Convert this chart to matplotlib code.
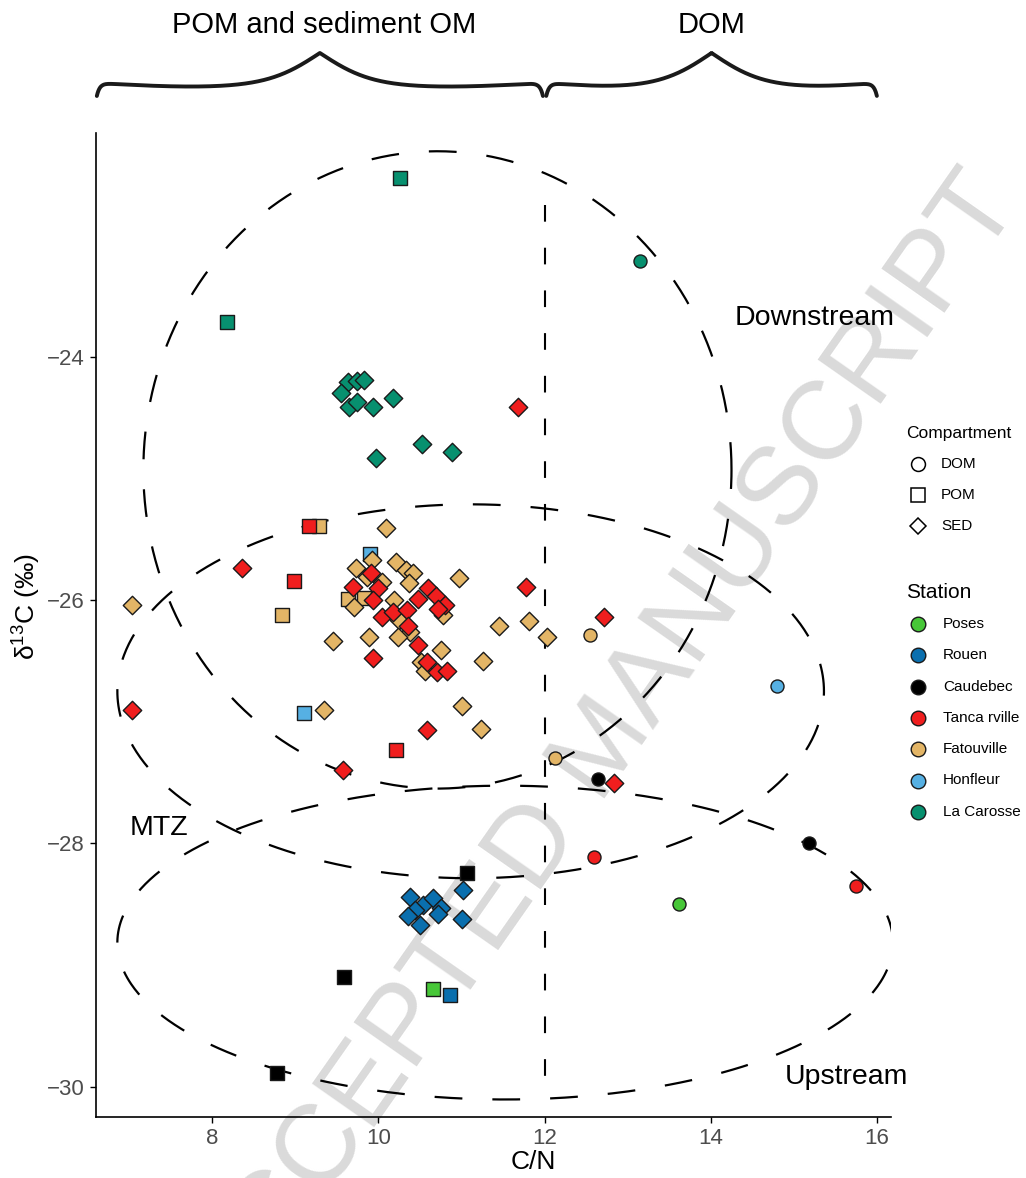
import numpy as np
import matplotlib
matplotlib.use("Agg")
import matplotlib.pyplot as plt
from matplotlib.lines import Line2D

plt.rcParams['font.family'] = ['Liberation Sans', 'DejaVu Sans']
plt.rcParams['mathtext.fontset'] = 'custom'
plt.rcParams['mathtext.rm'] = 'Liberation Sans'
plt.rcParams['mathtext.it'] = 'Liberation Sans:italic'

# ---------------------------------------------------------------- data
stations = ["Poses", "Rouen", "Caudebec", "Tanca rville", "Fatouville", "Honfleur", "La Carosse"]
station_colors = ["#47c738", "#0a6fae", "#000000", "#f01e1e", "#e3b566", "#56b0e3", "#07906f"]
compartments = ["DOM", "POM", "SED"]
compartment_markers = ["o", "s", "D"]

# Poses
poses_dom_cn = [13.62]
poses_dom_d13c = [-28.50]
poses_pom_cn = [10.66]
poses_pom_d13c = [-29.20]

# Rouen
rouen_pom_cn = [10.86]
rouen_pom_d13c = [-29.25]
rouen_sed_cn = [10.38, 10.54, 10.66, 10.75, 10.72, 10.44, 10.36, 10.50, 11.02, 11.01]
rouen_sed_d13c = [-28.44, -28.51, -28.45, -28.53, -28.58, -28.55, -28.60, -28.67, -28.38, -28.62]

# Caudebec
caud_dom_cn = [12.64, 15.18]
caud_dom_d13c = [-27.47, -28.00]
caud_pom_cn = [11.06, 9.58, 8.78]
caud_pom_d13c = [-28.24, -29.10, -29.89]

# Tancarville
tanc_dom_cn = [12.60, 15.75]
tanc_dom_d13c = [-28.11, -28.35]
tanc_pom_cn = [9.17, 8.98, 10.21]
tanc_pom_d13c = [-25.39, -25.84, -27.23]
tanc_sed_cn = [11.68, 8.36, 7.03, 10.58, 9.57, 11.78, 9.91, 9.69, 9.99, 9.94, 10.60, 10.69, 10.48,
               10.80, 10.72, 10.04, 10.17, 10.34, 10.36, 9.93, 10.48, 10.59, 10.70, 10.82, 12.72, 12.84]
tanc_sed_d13c = [-24.41, -25.74, -26.90, -27.07, -27.40, -25.89, -25.78, -25.89, -25.90, -26.00, -25.90,
                 -25.97, -25.99, -26.04, -26.07, -26.14, -26.10, -26.08, -26.21, -26.48, -26.37, -26.51,
                 -26.59, -26.58, -26.14, -27.50]

# Fatouville
fatou_dom_cn = [12.13, 12.55]
fatou_dom_d13c = [-27.30, -26.29]
fatou_pom_cn = [9.28, 8.84, 9.63, 9.83]
fatou_pom_d13c = [-25.39, -26.12, -25.99, -25.98]
fatou_sed_cn = [10.09, 7.03, 9.45, 9.35, 11.01, 11.24, 10.97, 11.26, 11.45, 11.81, 12.03, 9.92, 9.73,
                10.21, 10.33, 10.41, 10.37, 10.04, 9.86, 9.71, 10.19, 10.78, 10.25, 10.38, 10.23, 9.89,
                10.75, 10.51, 10.56]
fatou_sed_d13c = [-25.41, -26.04, -26.34, -26.90, -26.87, -27.06, -25.82, -26.50, -26.21, -26.17, -26.30,
                  -25.67, -25.74, -25.69, -25.75, -25.78, -25.86, -25.85, -25.81, -26.06, -26.00, -26.12,
                  -26.16, -26.26, -26.30, -26.30, -26.41, -26.51, -26.58]

# Honfleur
honf_dom_cn = [14.80]
honf_dom_d13c = [-26.71]
honf_pom_cn = [9.90, 9.10]
honf_pom_d13c = [-25.62, -26.93]

# La Carosse
laca_dom_cn = [13.15]
laca_dom_d13c = [-23.21]
laca_pom_cn = [10.26, 8.18]
laca_pom_d13c = [-22.53, -23.71]
laca_sed_cn = [9.63, 9.74, 9.83, 9.55, 9.65, 9.74, 9.94, 10.18, 9.97, 10.52, 10.88]
laca_sed_d13c = [-24.21, -24.20, -24.19, -24.30, -24.41, -24.37, -24.41, -24.34, -24.83, -24.72, -24.78]

# zone ellipses: centre (C/N, d13C) and semi-axes
zone_names = ["Downstream", "MTZ", "Upstream"]
zone_center_cn = [10.71, 11.11, 11.525]
zone_center_d13c = [-24.93, -26.75, -28.816]
zone_semi_cn = [3.54, 4.253, 4.668]
zone_semi_d13c = [2.62, 1.537, 1.29]

cn_split = 12.0

# ---------------------------------------------------------------- figure
W, H = 1026, 1178
fig = plt.figure(figsize=(W / 100, H / 100), dpi=100, facecolor="white")
ax = fig.add_axes([96 / W, 1 - 1117 / H, (891 - 96) / W, (1117 - 133) / H])
ax.patch.set_visible(False)
ax.set_xlim(6.6, 16.17)
ax.set_ylim(-30.25, -22.16)

# watermark behind everything
fig.text(605 / W, 1 - 748 / H, "ACCEPTED MANUSCRIPT", rotation=55, rotation_mode="anchor",
         ha="center", va="center", fontsize=80, color="#dadada", zorder=-5)

# zone ellipses
t = np.linspace(0, 2 * np.pi, 600)
for cx, cy, a, b in zip(zone_center_cn, zone_center_d13c, zone_semi_cn, zone_semi_d13c):
    ax.plot(cx + a * np.cos(t), cy + b * np.sin(t), color="black", lw=1.6,
            ls=(0, (12.5, 13.5)), zorder=2)

# DOM / particulate split
ax.plot([cn_split, cn_split], [-22.75, -30.08], color="black", lw=1.5, ls=(0, (8, 12.5)), zorder=2)

def pts(cn, d13c, station, marker):
    col = station_colors[stations.index(station)]
    ax.scatter(cn, d13c, s=88, marker=marker, facecolor=col, edgecolor="#1a1a1a",
               linewidths=1.0, zorder=3)

pts(laca_pom_cn, laca_pom_d13c, "La Carosse", "s")
pts(laca_sed_cn, laca_sed_d13c, "La Carosse", "D")
pts(laca_dom_cn, laca_dom_d13c, "La Carosse", "o")
pts(honf_pom_cn, honf_pom_d13c, "Honfleur", "s")
pts(honf_dom_cn, honf_dom_d13c, "Honfleur", "o")
pts(fatou_pom_cn, fatou_pom_d13c, "Fatouville", "s")
pts(fatou_sed_cn, fatou_sed_d13c, "Fatouville", "D")
pts(fatou_dom_cn, fatou_dom_d13c, "Fatouville", "o")
pts(tanc_pom_cn, tanc_pom_d13c, "Tanca rville", "s")
pts(tanc_sed_cn, tanc_sed_d13c, "Tanca rville", "D")
pts(tanc_dom_cn, tanc_dom_d13c, "Tanca rville", "o")
pts(caud_pom_cn, caud_pom_d13c, "Caudebec", "s")
pts(caud_dom_cn, caud_dom_d13c, "Caudebec", "o")
pts(rouen_sed_cn, rouen_sed_d13c, "Rouen", "D")
pts(rouen_pom_cn, rouen_pom_d13c, "Rouen", "s")
pts(poses_pom_cn, poses_pom_d13c, "Poses", "s")
pts(poses_dom_cn, poses_dom_d13c, "Poses", "o")

# zone labels
ax.text(14.29, -23.68, "Downstream", fontsize=20.5, ha="left", va="center")
ax.text(7.01, -27.87, "MTZ", fontsize=20.5, ha="left", va="center")
ax.text(14.89, -29.92, "Upstream", fontsize=20.5, ha="left", va="center")

# axes styling (classic theme)
for side in ("top", "right"):
    ax.spines[side].set_visible(False)
for side in ("left", "bottom"):
    ax.spines[side].set_linewidth(1.2)
ax.set_xticks([8, 10, 12, 14, 16])
ax.set_yticks([-30, -28, -26, -24])
ax.tick_params(direction="out", length=4, width=1.0, colors="black", labelsize=16,
               labelcolor="#4d4d4d", pad=4)

fig.text(533 / W, 1 - 1162 / H, "C/N", ha="center", va="center", fontsize=19)
fig.text(27 / W, 1 - 607 / H, "δ$^{13}$C (‰)", rotation=90, ha="center", va="center", fontsize=19)

# curly braces above the panel
def brace(x_start, x_end):
    px0 = ax.transData.transform((x_start, -26))[0]
    px1 = ax.transData.transform((x_end, -26))[0]
    mid = 0.5 * (px0 + px1)
    w = mid - px0
    d = np.linspace(0, w, 300)
    y = (96 - 13 * (1 - np.exp(-d / 3.0)) + 4 * np.sin(np.pi * d / w)
         - 60 / (1 + np.exp(0.0397 * (w - d))))
    xs = np.concatenate([px0 + d, (px1 - d)[::-1]])
    ys = np.concatenate([y, y[::-1]])
    fig.add_artist(Line2D(xs / W, 1 - ys / H, transform=fig.transFigure, color="#1a1a1a",
                          lw=2.8, solid_capstyle="round", solid_joinstyle="round"))
    return mid

m1 = brace(6.61, 11.98)
m2 = brace(12.02, 16.0)
fig.text(m1 / W + 0.004, 1 - 25 / H, "POM and sediment OM", ha="center", va="center", fontsize=21)
fig.text(m2 / W, 1 - 25 / H, "DOM", ha="center", va="center", fontsize=21)

# legends
lx = 918 / W
fig.text(906 / W, 1 - 433 / H, "Compartment", ha="left", va="center", fontsize=12.5)
for i, (lab, mk) in enumerate(zip(compartments, compartment_markers)):
    yy = 1 - (464 + 31 * i) / H
    fig.add_artist(Line2D([lx], [yy], transform=fig.transFigure, marker=mk,
                          markersize=10 if mk != "D" else 8.5, markerfacecolor="white",
                          markeredgecolor="black", markeredgewidth=1.1, ls="none"))
    fig.text(941 / W, yy, lab, ha="left", va="center", fontsize=11)

fig.text(906 / W, 1 - 592 / H, "Station", ha="left", va="center", fontsize=15)
for i, (lab, col) in enumerate(zip(stations, station_colors)):
    yy = 1 - (624 + 31.3 * i) / H
    fig.add_artist(Line2D([lx], [yy], transform=fig.transFigure, marker="o", markersize=10.5,
                          markerfacecolor=col, markeredgecolor="#1a1a1a", markeredgewidth=1.0,
                          ls="none"))
    fig.text(943 / W, yy, lab, ha="left", va="center", fontsize=11)

fig.savefig("out.png", dpi=100, facecolor="white")
